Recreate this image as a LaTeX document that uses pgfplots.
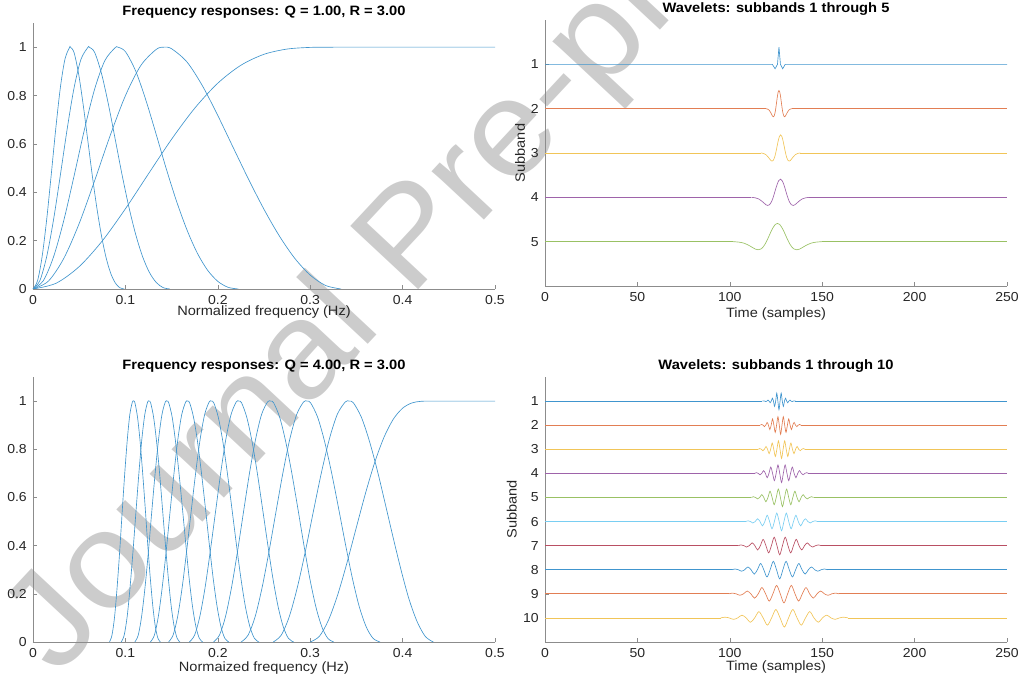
\documentclass[border=0pt]{standalone}
\usepackage{pgfplots}
\pgfplotsset{compat=1.18}
\usepackage{pgfplotstable}
\usepackage{fontspec}
\setmainfont{Liberation Sans}[FakeStretch=1.08]

\definecolor{m1}{rgb}{0,0.447,0.741}
\definecolor{m2}{rgb}{0.85,0.325,0.098}
\definecolor{m3}{rgb}{0.929,0.694,0.125}
\definecolor{m4}{rgb}{0.494,0.184,0.556}
\definecolor{m5}{rgb}{0.466,0.674,0.188}
\definecolor{m6}{rgb}{0.301,0.745,0.933}
\definecolor{m7}{rgb}{0.635,0.078,0.184}

\pgfplotsset{
  base/.style={
    scale only axis, anchor=south west,
    axis x line*=bottom, axis y line*=left,
    axis line style={draw=black!45, line width=0.6pt},
    tick style={draw=black!45, line width=0.6pt},
    tick align=inside, major tick length=4pt,
    /pgf/number format/assume math mode=true,
    ticklabel style={font=\fontsize{13}{14}\selectfont, text=black!85},
    label style={font=\fontsize{13.5}{15}\selectfont, text=black!85},
    every axis title shift=0pt,
    title style={font=\bfseries\fontsize{13.6}{15}\selectfont, at={(0.5,1)}, anchor=base, yshift=7pt, text=black},
    xticklabel style={anchor=base, yshift=-15.5pt},
    yticklabel style={anchor=east, inner sep=0pt, xshift=-6pt},
    every axis plot/.append style={line width=0.65pt, no markers},
  },
  fr/.style={draw=m1!75!white},
}

\pgfplotstableread{
f2 g2 f3 g3 f4 g4 f5 g5
0 0 0 0 0 0 0 0
0.01667 0.0326 0.01111 0.0341 0.00741 0.0344 0.00494 0.0345
0.03333 0.1266 0.02222 0.1326 0.01481 0.1339 0.00988 0.1343
0.05 0.2710 0.03333 0.2836 0.02222 0.2863 0.01481 0.2873
0.06667 0.4476 0.04444 0.4673 0.02963 0.4716 0.01975 0.4730
0.08333 0.6324 0.05556 0.6576 0.03704 0.6630 0.02469 0.6648
0.1 0.7992 0.06667 0.8262 0.04444 0.8318 0.02963 0.8336
0.11667 0.9241 0.07778 0.9446 0.05185 0.9490 0.03457 0.9501
0.13333 0.9907 0.08889 0.9976 0.05926 0.9984 0.03951 0.9986
0.14167 1 0.09185 1 0.06086 1 0.04049 1
0.15 0.9935 0.1 0.9816 0.06667 0.9787 0.04444 0.9778
0.16667 0.9386 0.11111 0.9014 0.07407 0.8920 0.04938 0.8891
0.18333 0.8405 0.12222 0.7802 0.08148 0.7662 0.05432 0.7618
0.2 0.7174 0.13333 0.6394 0.08889 0.6209 0.05926 0.6158
0.21667 0.5849 0.14444 0.4944 0.0963 0.4741 0.0642 0.4683
0.23333 0.4534 0.15556 0.3605 0.1037 0.3403 0.06914 0.3345
0.25 0.3295 0.16667 0.2440 0.11111 0.2260 0.07407 0.2211
0.26667 0.2189 0.17778 0.1487 0.11852 0.1348 0.07901 0.1312
0.28333 0.1267 0.18889 0.0780 0.12593 0.0689 0.08395 0.0665
0.3 0.0575 0.2 0.0316 0.13333 0.0272 0.08889 0.0260
0.31667 0.0146 0.21111 0.0070 0.14074 0.0058 0.09383 0.0055
0.33333 0 0.22222 0 0.14815 0 0.09877 0
}\tlbands

\pgfplotstableread{
f v
0 0
0.025 0.0238
0.05 0.0927
0.075 0.1990
0.1 0.3316
0.125 0.4765
0.15 0.6194
0.175 0.7475
0.2 0.8511
0.225 0.9253
0.25 0.9705
0.275 0.9922
0.3 0.9991
0.325 1
0.35 1
0.375 1
0.4 1
0.45 1
0.5 1
}\tlhigh

\pgfplotstableread{
fa fb fc fd fe ff fg fh fi g gt
0.2600 0.2253 0.1953 0.1693 0.1467 0.1271 0.1102 0.0955 0.0828 0 0
0.2687 0.2328 0.2018 0.1749 0.1516 0.1314 0.1139 0.0987 0.0855 0.0286 0.0286
0.2773 0.2404 0.2083 0.1805 0.1565 0.1356 0.1175 0.1019 0.0883 0.1049 0.1049
0.2860 0.2479 0.2148 0.1862 0.1614 0.1398 0.1212 0.1050 0.0910 0.2253 0.2253
0.2947 0.2554 0.2213 0.1918 0.1662 0.1441 0.1249 0.1082 0.0938 0.3753 0.3753
0.3033 0.2629 0.2278 0.1975 0.1711 0.1483 0.1285 0.1114 0.0965 0.5393 0.5393
0.3120 0.2704 0.2343 0.2031 0.1760 0.1526 0.1322 0.1146 0.0993 0.7007 0.7007
0.3207 0.2779 0.2409 0.2087 0.1809 0.1568 0.1359 0.1178 0.1021 0.8418 0.8418
0.3293 0.2854 0.2474 0.2144 0.1858 0.1610 0.1396 0.1210 0.1048 0.9447 0.9447
0.3380 0.2929 0.2539 0.2200 0.1907 0.1653 0.1432 0.1241 0.1076 0.9967 0.9967
0.3423 0.2967 0.2571 0.2228 0.1931 0.1674 0.1451 0.1257 0.1090 1 1
0.3467 0.3004 0.2604 0.2257 0.1956 0.1695 0.1469 0.1273 0.1103 0.9931 0.9931
0.3553 0.3080 0.2669 0.2313 0.2005 0.1737 0.1506 0.1305 0.1131 0.9336 0.9337
0.3640 0.3155 0.2734 0.2370 0.2054 0.1780 0.1542 0.1337 0.1159 0.8334 0.8350
0.3727 0.3230 0.2799 0.2426 0.2102 0.1822 0.1579 0.1369 0.1186 0.7053 0.7111
0.3813 0.3305 0.2864 0.2482 0.2151 0.1865 0.1616 0.1400 0.1214 0.5594 0.5723
0.3900 0.3380 0.2929 0.2539 0.2200 0.1907 0.1653 0.1432 0.1241 0.4089 0.4297
0.3987 0.3455 0.2994 0.2595 0.2249 0.1949 0.1689 0.1464 0.1269 0.2672 0.2933
0.4073 0.3530 0.3060 0.2652 0.2298 0.1992 0.1726 0.1496 0.1297 0.1481 0.1735
0.4160 0.3605 0.3125 0.2708 0.2347 0.2034 0.1763 0.1528 0.1324 0.0638 0.0820
0.4247 0.3680 0.3190 0.2764 0.2396 0.2076 0.1800 0.1560 0.1352 0.0154 0.0225
0.4333 0.3756 0.3255 0.2821 0.2445 0.2119 0.1836 0.1591 0.1379 0 0
}\blbands

\pgfplotstableread{
f v
0.30 0
0.31 0.0238
0.32 0.0927
0.33 0.1990
0.34 0.3316
0.35 0.4765
0.36 0.6194
0.37 0.7475
0.38 0.8511
0.39 0.9253
0.40 0.9705
0.41 0.9922
0.42 0.9991
0.4333 1
0.45 1
0.47 1
0.5 1
}\blhigh

\begin{document}
\begin{tikzpicture}[x=1pt,y=1pt]
\path[use as bounding box] (0,0) rectangle (1022,680);
\node[rotate=47, anchor=base west, text=black!20, inner sep=0pt, font=\fontsize{135}{135}\selectfont] at (57pt,2pt) {Journal Pre-proof};

% ---------- top left ----------
\begin{axis}[base, at={(33pt,391pt)}, width=462pt, height=266pt,
  xmin=0, xmax=0.5, ymin=0, ymax=1.1,
  xtick={0,0.1,0.2,0.3,0.4,0.5}, ytick={0,0.2,0.4,0.6,0.8,1},
  title={Frequency responses: Q = 1.00, R = 3.00},
  xlabel={Normalized frequency (Hz)},
  xlabel style={at={(0.5,0)}, anchor=base, yshift=-26.5pt}]
\addplot[fr, smooth] table[x=f, y=v] {\tlhigh};
\addplot[fr, smooth] table[x=f2, y=g2] {\tlbands};
\addplot[fr, smooth] table[x=f3, y=g3] {\tlbands};
\addplot[fr, smooth] table[x=f4, y=g4] {\tlbands};
\addplot[fr, smooth] table[x=f5, y=g5] {\tlbands};
\end{axis}

% ---------- top right ----------
\begin{axis}[base, at={(545pt,394pt)}, width=462pt, height=266pt,
  xmin=0, xmax=250, ymin=-6, ymax=0,
  xtick={0,50,100,150,200,250}, ytick={-5,-4,-3,-2,-1}, yticklabels={5,4,3,2,1},
  title={Wavelets: subbands 1 through 5},
  xlabel={Time (samples)}, ylabel={Subband},
  xlabel style={at={(0.5,0)}, anchor=base, yshift=-31.5pt},
  ylabel style={at={(axis description cs:-0.0541,0.5)}, anchor=center}]
\addplot[m1!75!white] coordinates {(0,-1) (123,-1) (124.5,-1.10) (125.8,-1.0) (126.6,-0.61) (127.4,-1.0) (128.6,-1.10) (130,-1) (250,-1)};
% subband 2
\addplot[m2!75!white] coordinates {(0,-2) (119.6,-2)};
\addplot[m2!75!white] coordinates {(133.6,-2) (250,-2)};
\addplot[m2!75!white, smooth] coordinates {(119.6,-2) (120.48,-2.01) (121.35,-2.036) (122.23,-2.095) (123.1,-2.167) (123.54,-2.183) (123.98,-2.166) (124.41,-2.106) (124.85,-2) (125.29,-1.865) (125.73,-1.729) (126.16,-1.627) (126.6,-1.59) (127.04,-1.627) (127.48,-1.729) (127.91,-1.865) (128.35,-2) (128.79,-2.106) (129.23,-2.166) (129.66,-2.183) (130.1,-2.167) (130.98,-2.095) (131.85,-2.036) (132.73,-2.01) (133.6,-2)};
% subband 3
\addplot[m3!75!white] coordinates {(0,-3) (116.86,-3)};
\addplot[m3!75!white] coordinates {(138.14,-3) (250,-3)};
\addplot[m3!75!white, smooth] coordinates {(116.86,-3) (118.19,-3.01) (119.52,-3.036) (120.85,-3.095) (122.18,-3.167) (122.85,-3.183) (123.51,-3.166) (124.18,-3.106) (124.84,-3) (125.51,-2.865) (126.17,-2.729) (126.84,-2.627) (127.5,-2.59) (128.17,-2.627) (128.83,-2.729) (129.5,-2.865) (130.16,-3) (130.83,-3.106) (131.49,-3.166) (132.16,-3.183) (132.82,-3.167) (134.15,-3.095) (135.48,-3.036) (136.81,-3.01) (138.14,-3)};
% subband 4
\addplot[m4!75!white] coordinates {(0,-4) (111.68,-4)};
\addplot[m4!75!white] coordinates {(143.12,-4) (250,-4)};
\addplot[m4!75!white, smooth] coordinates {(111.68,-4) (113.65,-4.01) (115.61,-4.036) (117.58,-4.095) (119.54,-4.167) (120.52,-4.183) (121.51,-4.166) (122.49,-4.106) (123.47,-4) (124.45,-3.865) (125.44,-3.729) (126.42,-3.627) (127.4,-3.59) (128.38,-3.627) (129.37,-3.729) (130.35,-3.865) (131.33,-4) (132.31,-4.106) (133.3,-4.166) (134.28,-4.183) (135.26,-4.167) (137.23,-4.095) (139.19,-4.036) (141.16,-4.01) (143.12,-4)};
% subband 5
\addplot[m5!75!white] coordinates {(0,-5) (101.8,-5)};
\addplot[m5!75!white] coordinates {(149.8,-5) (250,-5)};
\addplot[m5!75!white, smooth] coordinates {(101.8,-5) (104.8,-5.01) (107.8,-5.036) (110.8,-5.095) (113.8,-5.167) (115.3,-5.183) (116.8,-5.166) (118.3,-5.106) (119.8,-5) (121.3,-4.865) (122.8,-4.729) (124.3,-4.627) (125.8,-4.59) (127.3,-4.627) (128.8,-4.729) (130.3,-4.865) (131.8,-5) (133.3,-5.106) (134.8,-5.166) (136.3,-5.183) (137.8,-5.167) (140.8,-5.095) (143.8,-5.036) (146.8,-5.01) (149.8,-5)};
\end{axis}

% ---------- bottom left ----------
\begin{axis}[base, at={(33pt,38pt)}, width=462pt, height=265pt,
  xmin=0, xmax=0.5, ymin=0, ymax=1.1,
  xtick={0,0.1,0.2,0.3,0.4,0.5}, ytick={0,0.2,0.4,0.6,0.8,1},
  title={Frequency responses: Q = 4.00, R = 3.00},
  xlabel={Normaized frequency (Hz)},
  xlabel style={at={(0.5,0)}, anchor=base, yshift=-29.5pt}]
\addplot[fr, smooth] table[x=f, y=v] {\blhigh};
\addplot[fr, smooth] table[x=fa, y=gt] {\blbands};
\addplot[fr, smooth] table[x=fb, y=g] {\blbands};
\addplot[fr, smooth] table[x=fc, y=g] {\blbands};
\addplot[fr, smooth] table[x=fd, y=g] {\blbands};
\addplot[fr, smooth] table[x=fe, y=g] {\blbands};
\addplot[fr, smooth] table[x=ff, y=g] {\blbands};
\addplot[fr, smooth] table[x=fg, y=g] {\blbands};
\addplot[fr, smooth] table[x=fh, y=g] {\blbands};
\addplot[fr, smooth] table[x=fi, y=g] {\blbands};
\end{axis}

% ---------- bottom right ----------
\begin{axis}[base, at={(545pt,38pt)}, width=462pt, height=265pt,
  xmin=0, xmax=250, ymin=-11, ymax=0,
  xtick={0,50,100,150,200,250}, ytick={-10,-9,-8,-7,-6,-5,-4,-3,-2,-1}, yticklabels={10,9,8,7,6,5,4,3,2,1},
  title={Wavelets: subbands 1 through 10},
  xlabel={Time (samples)}, ylabel={Subband},
  xlabel style={at={(0.5,0)}, anchor=base, yshift=-28.8pt},
  ylabel style={at={(axis description cs:-0.0721,0.5)}, anchor=center}]
% 1
\addplot[m1!75!white] coordinates {(0,-1) (117.68,-1)};
\addplot[m1!75!white] coordinates {(135.53,-1) (250,-1)};
\addplot[m1!75!white, smooth] coordinates {(117.68,-1) (118.27,-0.99) (118.87,-1) (119.46,-1.02) (120.06,-1) (120.65,-0.96) (121.25,-1) (121.84,-1.07) (122.44,-1) (123.03,-0.88) (123.63,-1) (124.22,-1.22) (124.82,-1) (125.41,-0.67) (126.01,-1) (126.6,-1.36) (127.20,-1) (127.79,-0.67) (128.39,-1) (128.98,-1.22) (129.58,-1) (130.17,-0.88) (130.77,-1) (131.36,-1.07) (131.96,-1) (132.55,-0.96) (133.15,-1) (133.74,-1.02) (134.34,-1) (134.93,-0.99) (135.53,-1)};
% 2
\addplot[m2!75!white] coordinates {(0,-2) (116.54,-2)};
\addplot[m2!75!white] coordinates {(138.47,-2) (250,-2)};
\addplot[m2!75!white, smooth] coordinates {(116.54,-2) (117.27,-1.97) (118.00,-2) (118.73,-2.06) (119.46,-2) (120.19,-1.885) (120.92,-2) (121.65,-2.18) (122.38,-2) (123.11,-1.74) (123.85,-2) (124.58,-2.30) (125.31,-2) (126.04,-1.65) (126.77,-2) (127.5,-2.38) (128.23,-2) (128.96,-1.65) (129.69,-2) (130.42,-2.30) (131.16,-2) (131.89,-1.74) (132.62,-2) (133.35,-2.18) (134.08,-2) (134.81,-1.885) (135.54,-2) (136.27,-2.06) (137.00,-2) (137.73,-1.97) (138.47,-2)};
% 3
\addplot[m3!75!white] coordinates {(0,-3) (115.36,-3)};
\addplot[m3!75!white] coordinates {(140.64,-3) (250,-3)};
\addplot[m3!75!white, smooth] coordinates {(115.36,-3) (116.21,-2.97) (117.05,-3) (117.89,-3.06) (118.73,-3) (119.58,-2.885) (120.42,-3) (121.26,-3.18) (122.10,-3) (122.95,-2.74) (123.79,-3) (124.63,-3.30) (125.47,-3) (126.32,-2.65) (127.16,-3) (128,-3.38) (128.84,-3) (129.69,-2.65) (130.53,-3) (131.37,-3.30) (132.21,-3) (133.06,-2.74) (133.90,-3) (134.74,-3.18) (135.58,-3) (136.43,-2.885) (137.27,-3) (138.11,-3.06) (138.95,-3) (139.80,-2.97) (140.64,-3)};
% 4
\addplot[m4!75!white] coordinates {(0,-4) (113.42,-4)};
\addplot[m4!75!white] coordinates {(142.58,-4) (250,-4)};
\addplot[m4!75!white, smooth] coordinates {(113.42,-4) (114.39,-3.97) (115.36,-4) (116.33,-4.06) (117.30,-4) (118.28,-3.885) (119.25,-4) (120.22,-4.18) (121.19,-4) (122.17,-3.74) (123.14,-4) (124.11,-4.30) (125.08,-4) (126.06,-3.65) (127.03,-4) (128,-4.38) (128.97,-4) (129.94,-3.65) (130.92,-4) (131.89,-4.30) (132.86,-4) (133.83,-3.74) (134.81,-4) (135.78,-4.18) (136.75,-4) (137.72,-3.885) (138.70,-4) (139.67,-4.06) (140.64,-4) (141.61,-3.97) (142.58,-4)};
% 5
\addplot[m5!75!white] coordinates {(0,-5) (111.67,-5)};
\addplot[m5!75!white] coordinates {(145.33,-5) (250,-5)};
\addplot[m5!75!white, smooth] coordinates {(111.67,-5) (112.79,-4.97) (113.91,-5) (115.04,-5.06) (116.16,-5) (117.28,-4.885) (118.40,-5) (119.52,-5.18) (120.65,-5) (121.77,-4.74) (122.89,-5) (124.01,-5.30) (125.13,-5) (126.26,-4.65) (127.38,-5) (128.5,-5.38) (129.62,-5) (130.74,-4.65) (131.87,-5) (132.99,-5.30) (134.11,-5) (135.23,-4.74) (136.35,-5) (137.48,-5.18) (138.60,-5) (139.72,-4.885) (140.84,-5) (141.96,-5.06) (143.09,-5) (144.21,-4.97) (145.33,-5)};
% 6
\addplot[m6!75!white] coordinates {(0,-6) (108.58,-6)};
\addplot[m6!75!white] coordinates {(147.42,-6) (250,-6)};
\addplot[m6!75!white, smooth] coordinates {(108.58,-6) (109.87,-5.97) (111.17,-6) (112.46,-6.06) (113.76,-6) (115.05,-5.885) (116.35,-6) (117.64,-6.18) (118.94,-6) (120.23,-5.74) (121.53,-6) (122.82,-6.30) (124.12,-6) (125.41,-5.65) (126.71,-6) (128,-6.38) (129.29,-6) (130.59,-5.65) (131.88,-6) (133.18,-6.30) (134.47,-6) (135.77,-5.74) (137.06,-6) (138.36,-6.18) (139.65,-6) (140.95,-5.885) (142.24,-6) (143.54,-6.06) (144.83,-6) (146.13,-5.97) (147.42,-6)};
% 7
\addplot[m7!75!white] coordinates {(0,-7) (104.60,-7)};
\addplot[m7!75!white] coordinates {(149.40,-7) (250,-7)};
\addplot[m7!75!white, smooth] coordinates {(104.60,-7) (106.09,-6.97) (107.58,-7) (109.08,-7.06) (110.57,-7) (112.07,-6.885) (113.56,-7) (115.05,-7.18) (116.55,-7) (118.04,-6.74) (119.53,-7) (121.03,-7.30) (122.52,-7) (124.01,-6.65) (125.51,-7) (127,-7.38) (128.49,-7) (129.99,-6.65) (131.48,-7) (132.97,-7.30) (134.47,-7) (135.96,-6.74) (137.45,-7) (138.95,-7.18) (140.44,-7) (141.94,-6.885) (143.43,-7) (144.92,-7.06) (146.42,-7) (147.91,-6.97) (149.40,-7)};
% 8
\addplot[m1!75!white] coordinates {(0,-8) (101.16,-8)};
\addplot[m1!75!white] coordinates {(152.85,-8) (250,-8)};
\addplot[m1!75!white, smooth] coordinates {(101.16,-8) (102.88,-7.97) (104.60,-8) (106.32,-8.06) (108.05,-8) (109.77,-7.885) (111.49,-8) (113.22,-8.18) (114.94,-8) (116.66,-7.74) (118.39,-8) (120.11,-8.30) (121.83,-8) (123.55,-7.65) (125.28,-8) (127,-8.38) (128.72,-8) (130.45,-7.65) (132.17,-8) (133.89,-8.30) (135.62,-8) (137.34,-7.74) (139.06,-8) (140.78,-8.18) (142.51,-8) (144.23,-7.885) (145.95,-8) (147.68,-8.06) (149.40,-8) (151.12,-7.97) (152.85,-8)};
% 9
\addplot[m2!75!white] coordinates {(0,-9) (99.47,-9)};
\addplot[m2!75!white] coordinates {(159.13,-9) (250,-9)};
\addplot[m2!75!white, smooth] coordinates {(99.47,-9) (101.46,-8.97) (103.45,-9) (105.43,-9.06) (107.42,-9) (109.41,-8.885) (111.40,-9) (113.39,-9.18) (115.38,-9) (117.37,-8.74) (119.36,-9) (121.34,-9.30) (123.33,-9) (125.32,-8.65) (127.31,-9) (129.3,-9.38) (131.29,-9) (133.28,-8.65) (135.27,-9) (137.26,-9.30) (139.24,-9) (141.23,-8.74) (143.22,-9) (145.21,-9.18) (147.20,-9) (149.19,-8.885) (151.18,-9) (153.17,-9.06) (155.15,-9) (157.14,-8.97) (159.13,-9)};
% 10
\addplot[m3!75!white] coordinates {(0,-10) (95.10,-10)};
\addplot[m3!75!white] coordinates {(163.90,-10) (250,-10)};
\addplot[m3!75!white, smooth] coordinates {(95.10,-10) (97.39,-9.97) (99.68,-10) (101.98,-10.06) (104.27,-10) (106.57,-9.885) (108.86,-10) (111.15,-10.18) (113.45,-10) (115.74,-9.74) (118.03,-10) (120.33,-10.30) (122.62,-10) (124.91,-9.65) (127.21,-10) (129.5,-10.38) (131.79,-10) (134.09,-9.65) (136.38,-10) (138.67,-10.30) (140.97,-10) (143.26,-9.74) (145.55,-10) (147.85,-10.18) (150.14,-10) (152.44,-9.885) (154.73,-10) (157.02,-10.06) (159.32,-10) (161.61,-9.97) (163.90,-10)};
\end{axis}
\end{tikzpicture}
\end{document}
